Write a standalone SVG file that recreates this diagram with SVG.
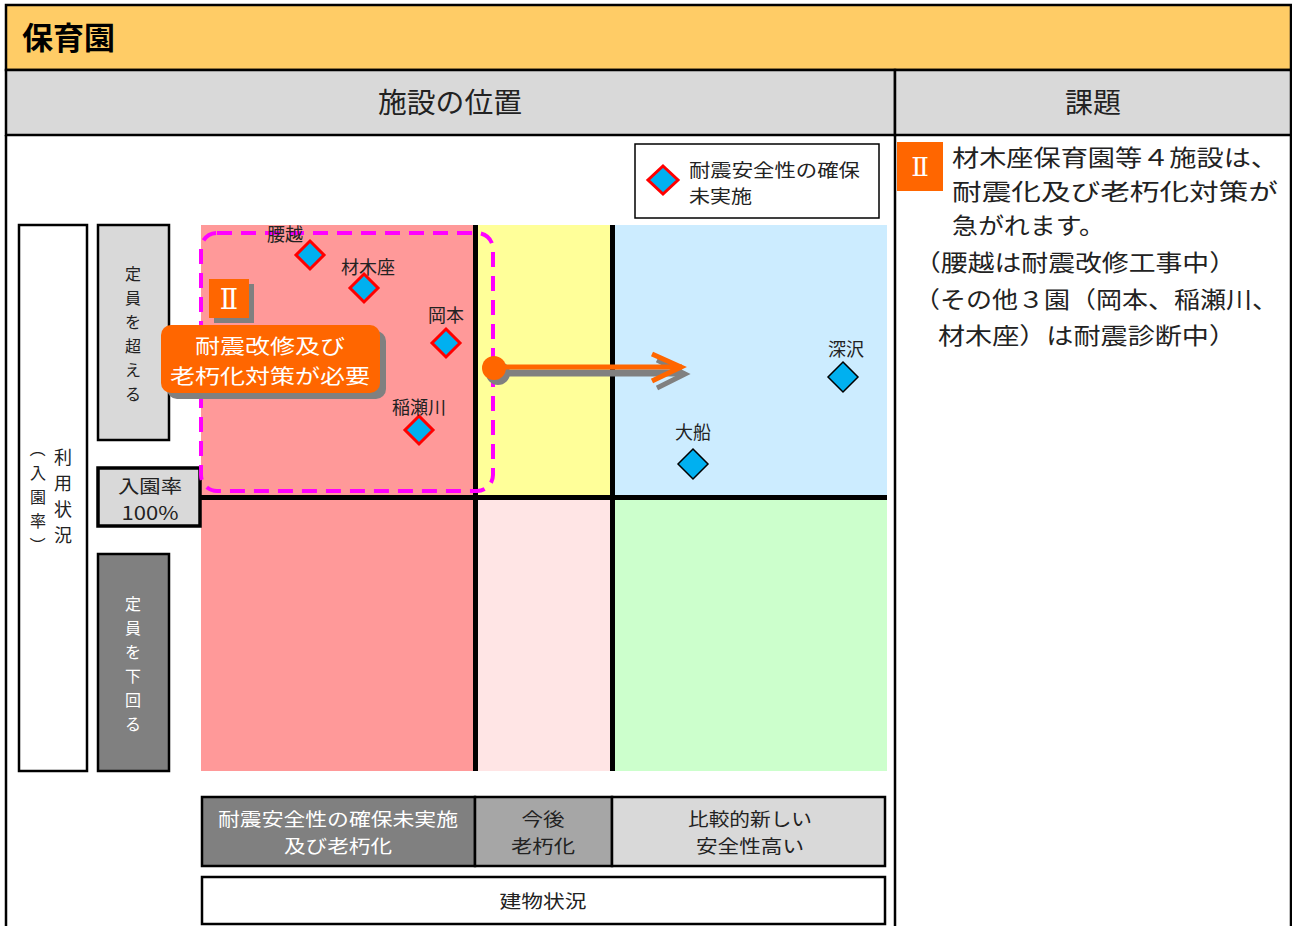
<svg xmlns="http://www.w3.org/2000/svg" width="1292" height="926" viewBox="0 0 1292 926">
<style>
  text { font-family: "Noto Sans CJK JP", "Noto Sans", sans-serif; fill: #222; }
  .hdr { font-size: 28px; text-anchor: middle; }
  .lbl { font-size: 18px; text-anchor: middle; }
  .vt { font-size: 16px; text-anchor: middle; }
  .wt { fill: #fff; }
  .box { stroke: #000; stroke-width: 2.5; }
  .grid { stroke: #000; stroke-width: 5; }
  .dr { fill: #00B0F0; stroke: #FF0000; stroke-width: 3; }
  .db { fill: #00B0F0; stroke: #000; stroke-width: 1.5; }
  .rt { font-size: 23px; fill: #222; }
  .bt { font-size: 18.5px; text-anchor: middle; }
  .roman { font-family: "DejaVu Serif", "Liberation Serif", serif; fill: #fff; text-anchor: middle; }
</style>
<defs>
  <clipPath id="qclip"><rect x="201" y="225" width="686" height="546"/></clipPath>
</defs>

<!-- frame / header -->
<g id="header">
  <rect x="6" y="5" width="1285" height="65" fill="#FFCC66" stroke="#000" stroke-width="2.5"/>
  <text x="22" y="49" style="font-size:31px;font-weight:bold;fill:#000">保育園</text>
  <rect x="6" y="70" width="889" height="65" fill="#D9D9D9" stroke="#000" stroke-width="2.5"/>
  <rect x="895" y="70" width="396" height="65" fill="#D9D9D9" stroke="#000" stroke-width="2.5"/>
  <text class="hdr" x="450" y="113" textLength="144" lengthAdjust="spacingAndGlyphs">施設の位置</text>
  <text class="hdr" x="1093" y="113">課題</text>
  <line x1="6" y1="135" x2="6" y2="926" stroke="#000" stroke-width="2.5"/>
  <line x1="895" y1="135" x2="895" y2="926" stroke="#000" stroke-width="2.5"/>
  <line x1="1291" y1="135" x2="1291" y2="926" stroke="#000" stroke-width="2.5"/>
</g>

<!-- quadrants -->
<g id="quadrants">
  <rect x="201" y="225" width="275" height="272" fill="#FF9999"/>
  <rect x="476" y="225" width="136" height="272" fill="#FFFF99"/>
  <rect x="612" y="225" width="275" height="272" fill="#CCECFF"/>
  <rect x="201" y="497" width="275" height="274" fill="#FF9999"/>
  <rect x="476" y="497" width="136" height="274" fill="#FFE5E5"/>
  <rect x="612" y="497" width="275" height="274" fill="#CCFFCC"/>
  <line class="grid" x1="475.5" y1="225" x2="475.5" y2="771"/>
  <line class="grid" x1="612.5" y1="225" x2="612.5" y2="771"/>
  <line class="grid" x1="201" y1="497.5" x2="887" y2="497.5"/>
</g>

<!-- legend -->
<g id="legend">
  <rect x="635" y="144" width="244" height="74" fill="#fff" stroke="#000" stroke-width="1.5"/>
  <path class="dr" d="M663 166 L678 180 L663 194 L648 180 Z"/>
  <text x="689" y="177" style="font-size:18px" textLength="171" lengthAdjust="spacingAndGlyphs">耐震安全性の確保</text>
  <text x="689" y="203" style="font-size:18px" textLength="63" lengthAdjust="spacingAndGlyphs">未実施</text>
</g>

<!-- left axis labels -->
<g id="axis-usage">
  <rect x="19" y="225" width="68" height="546" fill="#fff" stroke="#000" stroke-width="2.5"/>
  <text class="vt" x="63" y="464" style="font-size:18px">利</text>
  <text class="vt" x="63" y="490" style="font-size:18px">用</text>
  <text class="vt" x="63" y="516" style="font-size:18px">状</text>
  <text class="vt" x="63" y="542" style="font-size:18px">況</text>
  <text class="vt" x="38" y="455" transform="rotate(90 38 449)">（</text>
  <text class="vt" x="38" y="479">入</text>
  <text class="vt" x="38" y="503">園</text>
  <text class="vt" x="38" y="527">率</text>
  <text class="vt" x="38" y="551" transform="rotate(90 38 545)">）</text>
</g>
<g id="axis-over">
  <rect x="98" y="225" width="71" height="215" fill="#D9D9D9" stroke="#000" stroke-width="2.5"/>
  <text class="vt" x="133" y="280">定</text>
  <text class="vt" x="133" y="304">員</text>
  <text class="vt" x="133" y="328">を</text>
  <text class="vt" x="133" y="352">超</text>
  <text class="vt" x="133" y="376">え</text>
  <text class="vt" x="133" y="400">る</text>
</g>
<g id="axis-100">
  <rect x="98" y="468" width="102" height="58" fill="#D9D9D9" stroke="#000" stroke-width="3.5"/>
  <text class="lbl" x="150" y="493" style="font-size:18.5px" textLength="64" lengthAdjust="spacingAndGlyphs">入園率</text>
  <text class="lbl" x="150" y="520" style="font-size:18.5px" textLength="57" lengthAdjust="spacingAndGlyphs">100%</text>
</g>
<g id="axis-under">
  <rect x="98" y="554" width="71" height="217" fill="#808080" stroke="#000" stroke-width="2.5"/>
  <text class="vt wt" x="133" y="610">定</text>
  <text class="vt wt" x="133" y="634">員</text>
  <text class="vt wt" x="133" y="658">を</text>
  <text class="vt wt" x="133" y="682">下</text>
  <text class="vt wt" x="133" y="706">回</text>
  <text class="vt wt" x="133" y="730">る</text>
</g>

<!-- group II dashed region -->
<g id="group-II">
  <rect x="201" y="233" width="292" height="258" rx="16" ry="16" fill="none" stroke="#FF00FF" stroke-width="4" stroke-dasharray="15 9"/>
</g>

<!-- facilities -->
<g id="node-koshigoe" clip-path="url(#qclip)">
  <path class="dr" d="M310 241 L324 255 L310 269 L296 255 Z"/>
  <text class="lbl" x="285" y="241">腰越</text>
</g>
<g id="node-zaimokuza">
  <path class="dr" d="M364 274 L378 288 L364 302 L350 288 Z"/>
  <text class="lbl" x="368" y="274">材木座</text>
</g>
<g id="node-okamoto">
  <path class="dr" d="M446 329 L460 343 L446 357 L432 343 Z"/>
  <text class="lbl" x="446" y="322">岡本</text>
</g>
<g id="node-inasegawa">
  <path class="dr" d="M419 416 L433 430 L419 444 L405 430 Z"/>
  <text class="lbl" x="419" y="414">稲瀬川</text>
</g>
<g id="node-fukasawa">
  <path class="db" d="M843 362 L858 377 L843 392 L828 377 Z"/>
  <text class="lbl" x="846" y="356">深沢</text>
</g>
<g id="node-ofuna">
  <path class="db" d="M693 449 L708 464 L693 479 L678 464 Z"/>
  <text class="lbl" x="693" y="439">大船</text>
</g>

<!-- badge II in chart -->
<g id="badge-chart">
  <rect x="214" y="284" width="40" height="39" fill="#808080"/>
  <rect x="209" y="279" width="40" height="39" fill="#FF6600"/>
  <text class="roman" x="229" y="309" style="font-size:27px">Ⅱ</text>
</g>

<!-- callout -->
<g id="callout">
  <rect x="167" y="331" width="219" height="68" rx="10" fill="#808080"/>
  <rect x="161" y="325" width="219" height="68" rx="10" fill="#FF6600"/>
  <text x="270" y="354" style="font-size:20.5px;fill:#fff;text-anchor:middle" textLength="150" lengthAdjust="spacingAndGlyphs">耐震改修及び</text>
  <text x="270" y="384" style="font-size:20.5px;fill:#fff;text-anchor:middle" textLength="200" lengthAdjust="spacingAndGlyphs">老朽化対策が必要</text>
</g>

<!-- connectors -->
<g id="connectors">
  <circle cx="498" cy="373" r="12" fill="#808080"/>
  <path d="M500 373 L682 373" stroke="#808080" stroke-width="7" fill="none"/>
  <path d="M657 360 L685 374 L657 388" stroke="#808080" stroke-width="5" fill="none"/>
  <circle cx="494" cy="368" r="12" fill="#FF6600"/>
  <path d="M494 367 L682 367" stroke="#FF6600" stroke-width="5" fill="none"/>
  <path d="M652 354 L681 367 L652 381" stroke="#FF6600" stroke-width="5" fill="none" stroke-linejoin="miter"/>
</g>

<!-- bottom axis -->
<g id="axis-building">
  <rect x="202" y="797" width="273" height="69" fill="#808080" class="box"/>
  <rect x="475" y="797" width="137" height="69" fill="#A6A6A6" class="box"/>
  <rect x="612" y="797" width="273" height="69" fill="#D9D9D9" class="box"/>
  <text class="bt wt" x="338" y="826" textLength="240" lengthAdjust="spacingAndGlyphs">耐震安全性の確保未実施</text>
  <text class="bt wt" x="338" y="853" textLength="108" lengthAdjust="spacingAndGlyphs">及び老朽化</text>
  <text class="bt" x="543" y="826" textLength="43" lengthAdjust="spacingAndGlyphs">今後</text>
  <text class="bt" x="543" y="853" textLength="64" lengthAdjust="spacingAndGlyphs">老朽化</text>
  <text class="bt" x="750" y="826" textLength="124" lengthAdjust="spacingAndGlyphs">比較的新しい</text>
  <text class="bt" x="750" y="853" textLength="108" lengthAdjust="spacingAndGlyphs">安全性高い</text>
  <rect x="202" y="877" width="683" height="47" fill="#fff" class="box"/>
  <text class="bt" x="543" y="908" textLength="87" lengthAdjust="spacingAndGlyphs">建物状況</text>
</g>

<!-- issues -->
<g id="issues">
  <rect x="897" y="142" width="46" height="49" fill="#FF6600"/>
  <text class="roman" x="920" y="176" style="font-size:26px">Ⅱ</text>
  <text class="rt" x="952" y="166" textLength="326" lengthAdjust="spacingAndGlyphs">材木座保育園等４施設は、</text>
  <text class="rt" x="952" y="200" textLength="326" lengthAdjust="spacingAndGlyphs">耐震化及び老朽化対策が</text>
  <text class="rt" x="952" y="234" textLength="153" lengthAdjust="spacingAndGlyphs">急がれます。</text>
  <text class="rt" x="914" y="271" textLength="322" lengthAdjust="spacingAndGlyphs">（腰越は耐震改修工事中）</text>
  <text class="rt" x="914" y="308" textLength="364" lengthAdjust="spacingAndGlyphs">（その他３園（岡本、稲瀬川、</text>
  <text class="rt" x="938" y="344" textLength="298" lengthAdjust="spacingAndGlyphs">材木座）は耐震診断中）</text>
</g>
</svg>
